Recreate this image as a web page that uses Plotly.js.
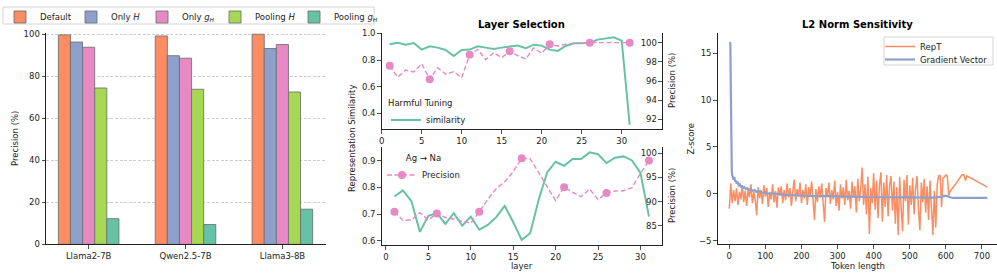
<!DOCTYPE html>
<html>
<head>
<meta charset="utf-8">
<script src="https://cdn.plot.ly/plotly-3.0.1.min.js"></script>
<style>html,body{margin:0;padding:0;background:#fff;}#chart{width:997px;height:275px;}</style>
</head>
<body>
<div id="chart"></div>
<script>
// ---------- Panel 1: bar chart ----------
const models = ['Llama2-7B', 'Qwen2.5-7B', 'Llama3-8B'];
const barNames = ['Default', 'Only <i>H</i>', 'Only <i>g</i><sub><i>H</i></sub>', 'Pooling <i>H</i>', 'Pooling <i>g</i><sub><i>H</i></sub>'];
const defaultVals = [99.7, 99.2, 100];
const onlyHVals = [96.3, 89.8, 93.2];
const onlyGVals = [93.8, 88.6, 95.1];
const poolHVals = [74.4, 73.8, 72.5];
const poolGVals = [12.2, 9.4, 16.7];

// ---------- Panel 2: layer selection ----------
const layers = [1,2,3,4,5,6,7,8,9,10,11,12,13,14,15,16,17,18,19,20,21,22,23,24,25,26,27,28,29,30,31];
const simHarm = [0.918,0.93,0.915,0.928,0.878,0.903,0.893,0.875,0.83,0.875,0.878,0.903,0.893,0.883,0.893,0.9,0.908,0.888,0.915,0.908,0.878,0.868,0.905,0.925,0.928,0.928,0.953,0.96,0.97,0.945,0.313];
const precHarm = [97.6,96.39,97.15,96.94,97.8,96.18,97.39,96.7,96.97,96.35,98.75,99.3,98.22,98.96,98.43,99.1,98.64,98.3,99.45,98.9,99.83,99.65,99.83,99.9,100,100,100,100,100,100,100];
const simAgNa = [0.766,0.789,0.749,0.634,0.694,0.704,0.664,0.704,0.657,0.691,0.642,0.66,0.689,0.731,0.67,0.604,0.629,0.754,0.856,0.896,0.881,0.906,0.906,0.931,0.924,0.891,0.911,0.916,0.901,0.854,0.691];
const precAgNa = [87.9,86.1,86.2,87.7,86.2,87.55,86.7,86.4,85.9,85.5,87.9,90.45,92.7,94.1,96.2,99.0,98.9,95.85,93.1,90.2,92.95,91.9,91.0,92.6,90.45,91.8,92.2,92.25,92.9,95.85,98.5];

// ---------- Panel 3: L2 norm sensitivity ----------
const repTx = [0,4,8,12,16,20,24,28,32,36,40,44,48,52,56,60,64,68,72,76,80,84,88,92,96,100,104,108,112,116,120,124,128,132,136,140,144,148,152,156,160,164,168,172,176,180,184,188,192,196,200,204,208,212,216,220,224,228,232,236,240,244,248,252,256,260,264,268,272,276,280,284,288,292,296,300,304,308,312,316,320,324,328,332,336,340,344,348,352,356,360,364,368,372,376,380,384,388,392,396,400,404,408,412,416,420,424,428,432,436,440,444,448,452,456,460,464,468,472,476,480,484,488,492,496,500,504,508,512,516,520,524,528,532,536,540,544,548,552,556,560,564,568,572,576,580,584,588,592,596,600,604,608,612,628,644,650,654,658,715];
const repTy = [-1.6,1.1,-1.0,0.4,-0.8,0.6,-1.2,0.2,-0.6,0.9,-0.9,0.3,-1.3,0.5,-0.4,1.0,-1.0,0.2,-0.7,-2.3,0.7,-0.5,0.4,-1.1,0.9,-0.3,0.6,-1.4,0.2,-0.6,1.0,-0.9,0.3,-1.5,0.7,-0.2,0.8,-1.0,0.4,-0.7,1.1,-0.4,0.6,-1.3,0.3,1.5,-0.8,0.5,-0.3,1.2,-1.0,0.4,-0.5,1.0,-1.2,0.7,-0.2,1.3,-0.6,-2.8,0.5,-0.9,0.8,-0.4,1.1,-1.5,-3.0,0.6,-0.3,1.2,-1.1,0.4,-0.6,1.4,-1.3,0.2,-1.8,1.0,-0.5,0.7,-1.2,1.5,-0.7,0.3,-1.6,1.3,-0.4,0.8,-2.0,1.6,-0.8,0.5,2.8,-1.2,1.0,-2.2,1.8,-4.3,0.6,-1.0,2.2,-1.7,1.4,-2.6,0.9,2.3,-3.0,1.2,-1.4,2.0,-2.4,0.8,1.9,-1.8,1.3,-3.2,0.7,-4.4,1.8,-1.5,-4.0,1.5,-0.8,2.0,-3.3,0.9,-1.2,1.7,-2.2,0.5,1.9,-1.6,-3.9,1.2,-0.9,1.6,-2.0,0.8,-2.8,1.4,-1.0,-4.4,0.3,-3.6,1.0,1.9,2.0,-1.4,1.7,1.8,2.0,1.9,-0.2,0.3,1.1,2.0,2.05,1.4,1.9,0.7];
const gradX = [2,3,4,5,6,7,8,10,12,14,16,18,20,23,26,29,32,35,38,42,46,50,55,60,65,70,75,80,90,100,110,120,135,150,170,190,210,240,270,300,340,380,420,460,500,540,570,590,600,610,620,660,715];
const gradY = [16.2,16.0,12.0,6.5,3.5,2.4,2.0,1.7,1.5,1.8,1.3,1.4,1.1,1.3,0.9,1.0,0.7,0.9,0.6,0.7,0.5,0.6,0.4,0.5,0.3,0.4,0.2,0.3,0.15,0.1,0.0,0.05,-0.05,-0.1,-0.15,-0.2,-0.2,-0.25,-0.25,-0.3,-0.3,-0.35,-0.35,-0.4,-0.4,-0.42,-0.42,-0.3,-0.2,-0.35,-0.45,-0.45,-0.45];

const barColors = ['#fc8d62', '#8da0cb', '#e78ac3', '#a6d854', '#66c2a5'];
const barSeries = [defaultVals, onlyHVals, onlyGVals, poolHVals, poolGVals];
const legendWidths = [26, 26, 28, 34, 50];
const FONT = 'DejaVu Sans, sans-serif';
const FS = 8.5;
const INK = '#222';
const GREEN = '#66c2a5', PINK = '#e78ac3', ORANGE = '#fc8d62', BLUE = '#8da0cb';

const traces = [];
barSeries.forEach((vals, i) => {
  traces.push({
    type: 'bar', x: models, y: vals, name: barNames[i],
    marker: {color: barColors[i], line: {color: 'rgba(110,110,110,0.85)', width: 1}},
    xaxis: 'x', yaxis: 'y', legend: 'legend', legendwidth: legendWidths[i]
  });
});

const everyFifth = layers.map((_, i) => i).filter(i => i % 5 === 0);

traces.push({type: 'scatter', mode: 'lines', x: layers, y: simHarm, name: 'similarity',
  line: {color: GREEN, width: 2}, xaxis: 'x2', yaxis: 'y2', legend: 'legend2'});
traces.push({type: 'scatter', mode: 'lines+markers', x: layers, y: precHarm, name: 'Precision',
  line: {color: PINK, width: 1.4, dash: '5px,2.5px'}, marker: {color: PINK, size: 8},
  selectedpoints: everyFifth, unselected: {marker: {opacity: 0}}, selected: {marker: {opacity: 1}},
  xaxis: 'x2', yaxis: 'y3', showlegend: false});
traces.push({type: 'scatter', mode: 'lines', x: layers, y: simAgNa, name: 'similarity',
  line: {color: GREEN, width: 2}, xaxis: 'x3', yaxis: 'y4', showlegend: false});
traces.push({type: 'scatter', mode: 'lines+markers', x: layers, y: precAgNa, name: 'Precision',
  line: {color: PINK, width: 1.4, dash: '5px,2.5px'}, marker: {color: PINK, size: 8},
  selectedpoints: everyFifth, unselected: {marker: {opacity: 0}}, selected: {marker: {opacity: 1}},
  xaxis: 'x3', yaxis: 'y5', legend: 'legend3'});

traces.push({type: 'scatter', mode: 'lines', x: repTx, y: repTy, name: 'RepT',
  line: {color: ORANGE, width: 1.5}, xaxis: 'x4', yaxis: 'y6', legend: 'legend4'});
traces.push({type: 'scatter', mode: 'lines', x: gradX, y: gradY, name: 'Gradient Vector',
  line: {color: BLUE, width: 2.2}, xaxis: 'x4', yaxis: 'y6', legend: 'legend5'});

const base = {showline: true, linecolor: INK, linewidth: 1, ticks: 'outside', ticklen: 3.5, tickwidth: 0.8,
  tickcolor: INK, tickfont: {size: FS, color: INK, family: FONT}, zeroline: false, showgrid: false,
  fixedrange: true, showticklabels: true};
const ax = o => Object.assign({}, base, o);

const W = 997, H = 275;
const px = v => v / W, py = v => 1 - v / H;

const ann = (text, x, y, opts) => Object.assign({text: text, x: px(x), y: py(y), xref: 'paper', yref: 'paper',
  showarrow: false, xanchor: 'center', yanchor: 'middle', font: {size: FS, color: INK, family: FONT}}, opts || {});

const legFont = {size: FS, color: INK, family: FONT};
const clearLeg = o => Object.assign({xanchor: 'left', yanchor: 'top', bgcolor: 'rgba(0,0,0,0)', borderwidth: 0,
  font: legFont, itemclick: false, itemdoubleclick: false}, o);

const layout = {
  width: W, height: H, margin: {l: 0, r: 0, t: 0, b: 0},
  paper_bgcolor: '#fff', plot_bgcolor: 'rgba(0,0,0,0)',
  font: {family: FONT, size: FS, color: INK},
  barmode: 'group', bargap: 0.375, bargroupgap: 0,
  xaxis: ax({domain: [px(46), px(326)], anchor: 'y', type: 'category', range: [-0.44, 2.45]}),
  yaxis: ax({domain: [py(244.3), py(33)], anchor: 'x', range: [0, 100.6], dtick: 20, tick0: 0,
    showgrid: true, gridcolor: '#b8b8b8', griddash: '3px,1.6px', gridwidth: 0.7}),
  xaxis2: ax({domain: [px(381.7), px(661.7)], anchor: 'y2', range: [0, 35], dtick: 5, tick0: 0, ticklabeloverflow: 'allow'}),
  yaxis2: ax({domain: [py(129.3), py(32.7)], anchor: 'x2', range: [0.28, 1.005], dtick: 0.2, tick0: 0, tickformat: '.1f'}),
  yaxis3: ax({overlaying: 'y2', side: 'right', anchor: 'x2', range: [90.96, 101.04], dtick: 2, tick0: 0,
    ticks: 'inside', ticklabelposition: 'inside'}),
  xaxis3: ax({domain: [px(381.7), px(661.7)], anchor: 'y4', range: [-0.5, 32.5], dtick: 5, tick0: 0}),
  yaxis4: ax({domain: [py(245), py(147.3)], anchor: 'x3', range: [0.585, 0.95], dtick: 0.1, tick0: 0, tickformat: '.1f'}),
  yaxis5: ax({overlaying: 'y4', side: 'right', anchor: 'x3', range: [81, 101.25], dtick: 5, tick0: 0,
    ticks: 'inside', ticklabelposition: 'inside'}),
  xaxis4: ax({domain: [px(717.7), 1], anchor: 'y6', range: [-32.1, 741.6], dtick: 100, tick0: 0}),
  yaxis6: ax({domain: [py(244.3), py(32.7)], anchor: 'x4', range: [-5.4, 17.2], dtick: 5, tick0: 0}),
  legend: clearLeg({orientation: 'h', x: 0, y: py(2.5)}),
  legend2: clearLeg({x: px(386), y: py(94.5),
    title: {text: 'Harmful Tuning', side: 'top', font: legFont}}),
  legend3: clearLeg({x: px(382), y: py(149.5),
    title: {text: 'Ag \u2192 Na', side: 'top center', font: legFont}}),
  legend4: clearLeg({x: px(880), y: py(32)}),
  legend5: clearLeg({x: px(880), y: py(45)}),
  shapes: [
    {type: 'rect', xref: 'paper', yref: 'paper', x0: px(3), x1: px(374), y0: py(24), y1: py(7),
      line: {color: '#d4d4d4', width: 1}, fillcolor: 'rgba(255,255,255,0.8)', layer: 'below'},
    {type: 'rect', xref: 'paper', yref: 'paper', x0: px(884), x1: px(993), y0: py(65), y1: py(37),
      line: {color: '#d4d4d4', width: 1}, fillcolor: 'rgba(255,255,255,0.8)', layer: 'above'}
  ],
  annotations: [
    ann('<b>Layer Selection</b>', 521.7, 24, {font: {size: 10, color: '#000', family: FONT}}),
    ann('<b>L2 Norm Sensitivity</b>', 857.5, 24, {font: {size: 10, color: '#000', family: FONT}}),
    ann('Precision (%)', 15, 139, {textangle: -90}),
    ann('Representation Similarity', 352, 139, {textangle: -90}),
    ann('Precision (%)', 672, 81, {textangle: -90}),
    ann('Precision (%)', 672, 196, {textangle: -90}),
    ann('Z-score', 690, 138.5, {textangle: -90}),
    ann('layer', 521.7, 266),
    ann('Token length', 857.5, 266)
  ]
};

Plotly.newPlot('chart', traces, layout, {displayModeBar: false, staticPlot: true});
</script>
</body>
</html>
